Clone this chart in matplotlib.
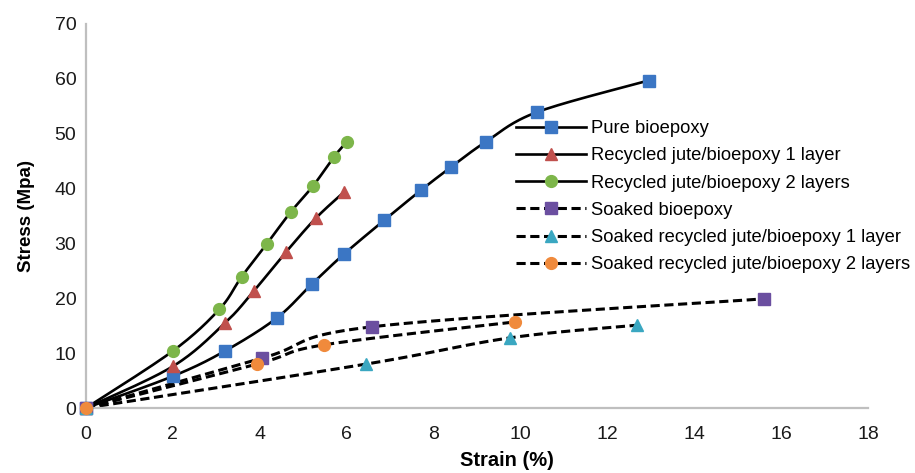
import numpy as np
import matplotlib
matplotlib.use("Agg")
import matplotlib.pyplot as plt
from matplotlib.lines import Line2D

plt.rcParams['font.family'] = ['Liberation Sans', 'DejaVu Sans']

# ---- data ----
pure_x = [0, 2.0, 3.2, 4.39, 5.2, 5.93, 6.86, 7.71, 8.4, 9.2, 10.37, 12.95]
pure_y = [0, 5.8, 10.4, 16.4, 22.6, 28.0, 34.2, 39.7, 43.9, 48.5, 53.9, 59.7]

rj1_x = [0, 2.0, 3.2, 3.86, 4.6, 5.29, 5.93]
rj1_y = [0, 7.6, 15.5, 21.3, 28.4, 34.6, 39.3]

rj2_x = [0, 2.0, 3.07, 3.58, 4.16, 4.71, 5.22, 5.7, 6.0]
rj2_y = [0, 10.4, 18.0, 23.9, 29.9, 35.7, 40.4, 45.7, 48.5]

sb_x = [0, 4.06, 6.58, 15.6]
sb_y = [0, 9.1, 14.8, 19.9]

srj1_x = [0, 6.44, 9.77, 12.68]
srj1_y = [0, 8.0, 12.8, 15.1]

srj2_x = [0, 3.93, 5.47, 9.88]
srj2_y = [0, 8.0, 11.5, 15.7]

labels = ["Pure bioepoxy", "Recycled jute/bioepoxy 1 layer",
          "Recycled jute/bioepoxy 2 layers", "Soaked bioepoxy",
          "Soaked recycled jute/bioepoxy 1 layer",
          "Soaked recycled jute/bioepoxy 2 layers"]

x_ticks = [0, 2, 4, 6, 8, 10, 12, 14, 16, 18]
y_ticks = [0, 10, 20, 30, 40, 50, 60, 70]

series = [
    (pure_x, pure_y, 's', '#3b76c4', '-'),
    (rj1_x, rj1_y, '^', '#c0504d', '-'),
    (rj2_x, rj2_y, 'o', '#7db64a', '-'),
    (sb_x, sb_y, 's', '#6b4fa0', '--'),
    (srj1_x, srj1_y, '^', '#3aa7c1', '--'),
    (srj2_x, srj2_y, 'o', '#f08a3c', '--'),
]

fig = plt.figure(figsize=(9.15, 4.73), dpi=100)
ax = fig.add_axes([86/915, 65/473, (868-86)/915, (408-24)/473])
ax.set_xlim(0, 18)
ax.set_ylim(0, 70)
fig.canvas.draw()


def smooth(xs, ys, n=30):
    # Excel-like smoothing: cubic Bezier with Catmull-Rom controls in display space
    pts = ax.transData.transform(np.column_stack([xs, ys]))
    m = len(pts)
    out = [pts[0]]
    for i in range(m - 1):
        p0 = pts[i - 1] if i > 0 else pts[i]
        p1 = pts[i]
        p2 = pts[i + 1]
        p3 = pts[i + 2] if i + 2 < m else pts[i + 1]
        c1 = p1 + (p2 - p0) / 6.0
        c2 = p2 - (p3 - p1) / 6.0
        t = np.linspace(0, 1, n)[1:, None]
        seg = ((1 - t) ** 3) * p1 + 3 * ((1 - t) ** 2) * t * c1 + 3 * (1 - t) * t ** 2 * c2 + t ** 3 * p2
        out.extend(seg)
    out = np.array(out)
    d = ax.transData.inverted().transform(out)
    return d[:, 0], d[:, 1]


handles = []
for (xs, ys, mk, col, ls), lab in zip(series, labels):
    sx, sy = smooth(xs, ys)
    dash = (0, (3.0, 1.5)) if ls == '--' else '-'
    lw = 2.2 if ls == '--' else 1.9
    ax.plot(sx, sy, color='black', lw=lw, linestyle=dash, zorder=2,
            dash_capstyle='butt', clip_on=False)
    h = Line2D([], [], color='black', lw=lw, linestyle=dash, marker=mk,
               markersize=8 if mk == 's' else 8.5, markerfacecolor=col,
               markeredgecolor=col)
    handles.append(h)
for (xs, ys, mk, col, ls) in series:
    ax.plot(xs, ys, linestyle='none', marker=mk,
            markersize=8 if mk == 's' else 8.5,
            markerfacecolor=col, markeredgecolor=col, zorder=3, clip_on=False)

for s in ['top', 'right']:
    ax.spines[s].set_visible(False)
for s in ['left', 'bottom']:
    ax.spines[s].set_color('#bfbfbf')
    ax.spines[s].set_linewidth(1.6)

ax.set_xticks(x_ticks)
ax.set_yticks(y_ticks)
ax.tick_params(axis='both', length=0, labelsize=14, colors='#1a1a1a')
ax.tick_params(axis='x', pad=13)
ax.tick_params(axis='y', pad=7)

ax.set_xlabel("Strain (%)", fontsize=14.5, fontweight='bold')
ax.xaxis.set_label_coords((507 - 86) / 782, -(451 - 408) / 384)
ax.set_ylabel("Stress (Mpa)", fontsize=13.5, fontweight='bold', labelpad=14)

leg = fig.legend(handles=handles, labels=labels, loc='upper left',
                 bbox_to_anchor=(516/915, 1 - 120/473), frameon=False,
                 fontsize=13.2, handlelength=3.8, handletextpad=0.3,
                 labelspacing=0.56, borderpad=0, borderaxespad=0)

fig.savefig("out.png", dpi=100)
